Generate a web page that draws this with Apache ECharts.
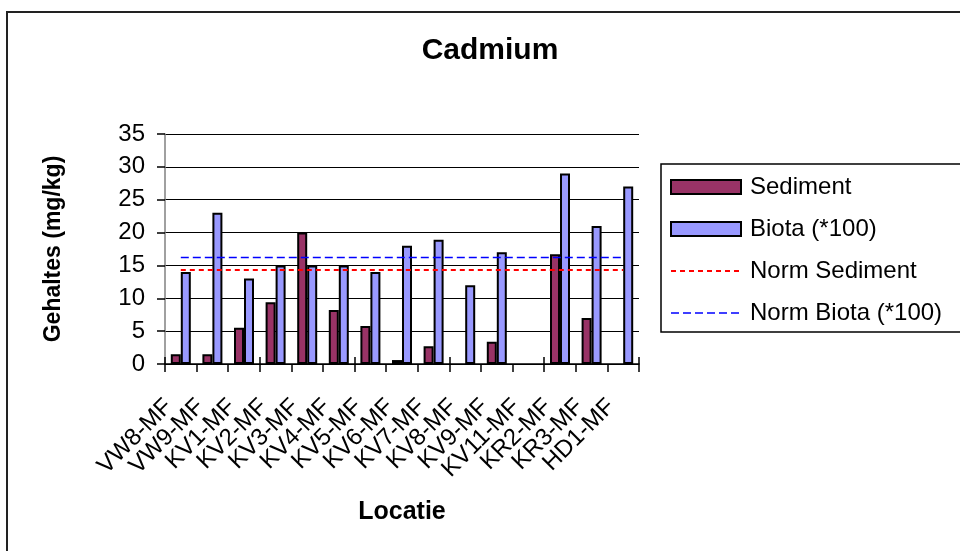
<!DOCTYPE html>
<html>
<head>
<meta charset="utf-8">
<title>Cadmium</title>
<script src="https://cdn.jsdelivr.net/npm/echarts@6/dist/echarts.min.js"></script>
<style>
  html, body { margin: 0; padding: 0; background: #fff; }
  #chart { width: 960px; height: 551px; }
</style>
</head>
<body>
<div id="chart"></div>
<script>
// Sampling locations along the x axis
const locaties = ['VW8-MF', 'VW9-MF', 'KV1-MF', 'KV2-MF', 'KV3-MF', 'KV4-MF', 'KV5-MF', 'KV6-MF',
                  'KV7-MF', 'KV8-MF', 'KV9-MF', 'KV11-MF', 'KR2-MF', 'KR3-MF', 'HD1-MF'];

// Cadmium content in sediment (mg/kg); null = not measured
const sediment = [1.5, 1.5, 5.5, 9.4, 20.0, 8.2, 5.8, 0.6, 2.7, null, 3.4, null, 16.7, 7.0, null];

// Cadmium content in biota, multiplied by 100
const biota = [14.0, 23.0, 13.0, 15.0, 15.0, 15.0, 14.0, 18.0, 18.9, 12.0, 17.0, null, 29.0, 21.0, 27.0];

// Norm values drawn as reference lines across all locations
const normSediment = [14.3, 14.3, 14.3, 14.3, 14.3, 14.3, 14.3, 14.3, 14.3, 14.3, 14.3, 14.3, 14.3, 14.3, 14.3];
const normBiota = [16.2, 16.2, 16.2, 16.2, 16.2, 16.2, 16.2, 16.2, 16.2, 16.2, 16.2, 16.2, 16.2, 16.2, 16.2];

// Value axis range
const yMin = 0, yMax = 35, yStep = 5;

const FONT = "'Liberation Sans', Arial, sans-serif";

const chart = echarts.init(document.getElementById('chart'), null, { renderer: 'canvas' });

// line-only legend keys: hide the marker, keep the dashed stroke
const lineKey = (name, color, width, dash) => ({
  name,
  itemStyle: { opacity: 0 },
  lineStyle: { color, width, type: dash, opacity: 1 }
});

chart.setOption({
  animation: false,
  backgroundColor: '#ffffff',
  textStyle: { fontFamily: FONT, color: '#000' },
  title: {
    text: 'Cadmium',
    left: 490,
    top: 36,
    padding: 0,
    textAlign: 'center',
    textStyle: { fontFamily: FONT, fontSize: 30, fontWeight: 'bold', color: '#000' }
  },
  graphic: [
    // outer chart frame
    { type: 'rect', silent: true, z: -10,
      shape: { x: 7, y: 12, width: 980, height: 560 },
      style: { fill: 'none', stroke: '#222', lineWidth: 2 } },
    // legend frame
    { type: 'rect', silent: true, z: -5,
      shape: { x: 661, y: 164, width: 330, height: 168 },
      style: { fill: '#fff', stroke: '#000', lineWidth: 1.5 } }
  ],
  legend: {
    orient: 'vertical',
    left: 670,
    top: 175,
    padding: 0,
    itemWidth: 70,
    itemHeight: 14,
    itemGap: 18,
    textStyle: { fontFamily: FONT, fontSize: 24, lineHeight: 24, color: '#000', padding: [0, 0, 0, 4] },
    data: [
      { name: 'Sediment', icon: 'rect' },
      { name: 'Biota (*100)', icon: 'rect' },
      lineKey('Norm Sediment', '#FF0000', 2, [5, 4]),
      lineKey('Norm Biota (*100)', '#0000FF', 1.5, [8, 4])
    ]
  },
  grid: { left: 165, right: 321, top: 134, bottom: 187, containLabel: false },
  xAxis: [
    {
      type: 'category',
      data: locaties,
      position: 'bottom',
      name: 'Locatie',
      nameLocation: 'middle',
      nameGap: 136,
      nameTextStyle: { fontFamily: FONT, fontSize: 25, fontWeight: 'bold', color: '#000' },
      axisLine: { show: true, lineStyle: { color: '#000', width: 1.5 } },
      axisTick: { show: true, length: 8, lineStyle: { color: '#000', width: 1.5 } },
      axisLabel: {
        interval: 0,
        rotate: 45,
        margin: 27,
        fontFamily: FONT,
        fontSize: 24,
        color: '#000',
        padding: [0, 17, 0, 0]
      },
      splitLine: { show: false }
    },
    {
      // second copy of the category axis, only for the inward half of the crossing ticks
      type: 'category',
      data: locaties,
      position: 'bottom',
      axisLine: { show: false },
      axisTick: { show: true, inside: true, length: 7, lineStyle: { color: '#000', width: 1.5 } },
      axisLabel: { show: false },
      splitLine: { show: false }
    }
  ],
  yAxis: {
    type: 'value',
    min: yMin,
    max: yMax,
    interval: yStep,
    name: 'Gehaltes (mg/kg)',
    nameLocation: 'middle',
    nameRotate: 90,
    nameGap: 100,
    nameTextStyle: { fontFamily: FONT, fontSize: 23, fontWeight: 'bold', color: '#000' },
    axisLine: { show: true, lineStyle: { color: '#808080', width: 1.5 } },
    axisTick: { show: true, length: 8, lineStyle: { color: '#000', width: 1.5 } },
    axisLabel: { margin: 20, fontFamily: FONT, fontSize: 24, color: '#000' },
    splitLine: { show: true, lineStyle: { color: '#000', width: 1.2 } }
  },
  series: [
    {
      name: 'Sediment',
      type: 'bar',
      data: sediment,
      barWidth: 10,
      barGap: '0%',
      itemStyle: { color: '#993366', borderColor: '#000', borderWidth: 2 }
    },
    {
      name: 'Biota (*100)',
      type: 'bar',
      data: biota,
      barWidth: 10,
      barGap: '0%',
      itemStyle: { color: '#9999FF', borderColor: '#000', borderWidth: 2 }
    },
    {
      name: 'Norm Sediment',
      type: 'line',
      data: normSediment,
      symbol: 'none',
      showSymbol: false,
      z: 5,
      itemStyle: { color: '#FF0000' },
      lineStyle: { color: '#FF0000', width: 2, type: [5, 4] }
    },
    {
      name: 'Norm Biota (*100)',
      type: 'line',
      data: normBiota,
      symbol: 'none',
      showSymbol: false,
      z: 5,
      itemStyle: { color: '#0000FF' },
      lineStyle: { color: '#0000FF', width: 1.5, type: [8, 4] }
    }
  ]
});
</script>
</body>
</html>
